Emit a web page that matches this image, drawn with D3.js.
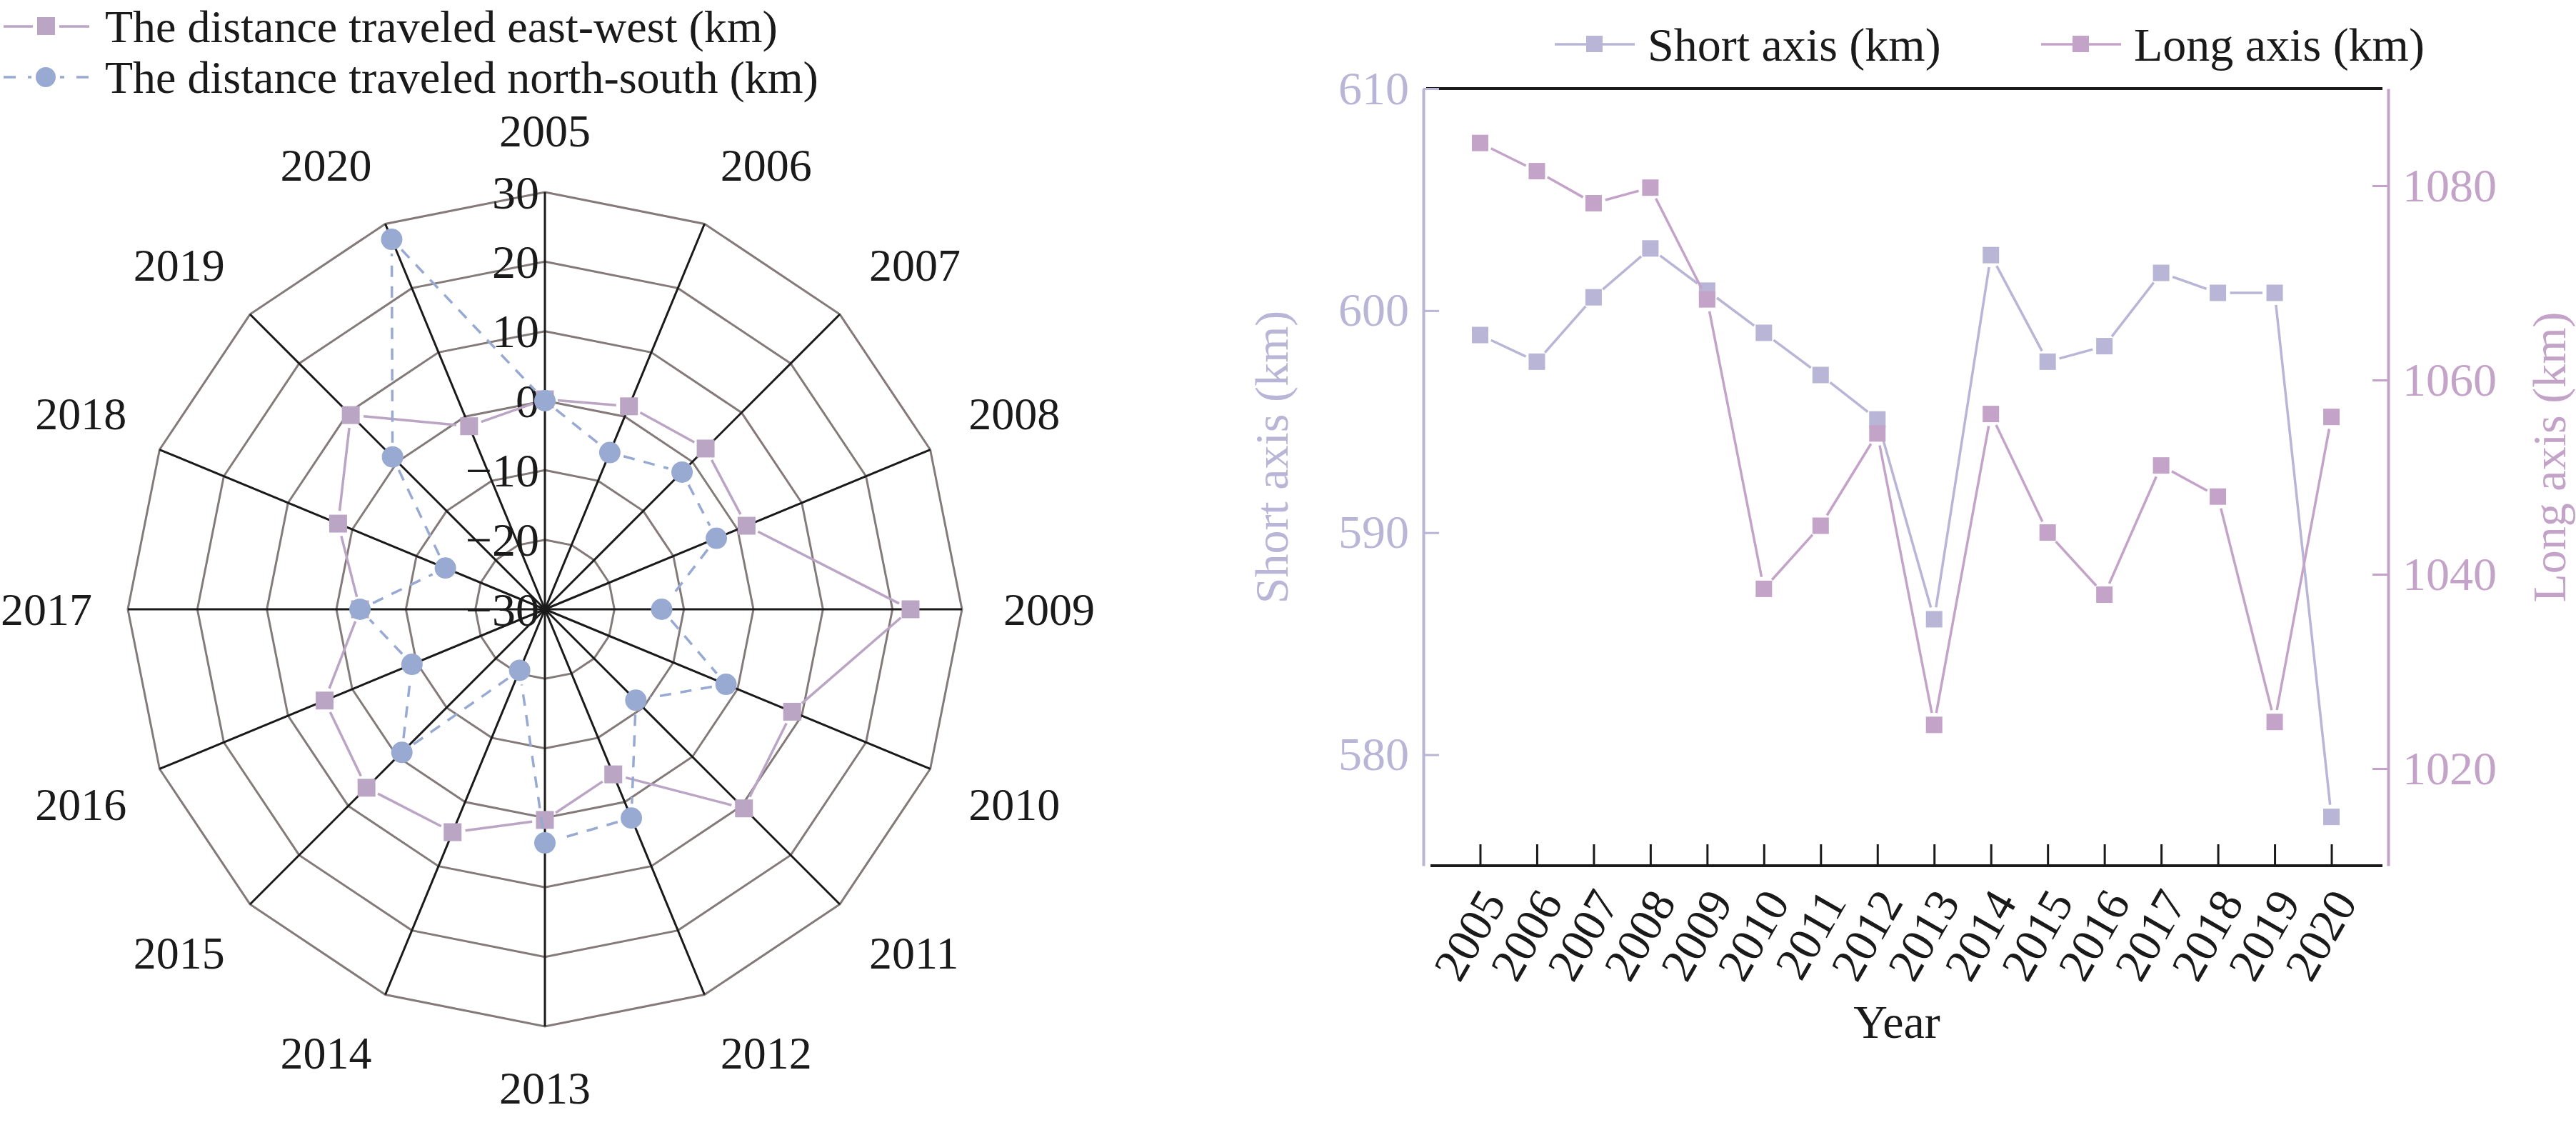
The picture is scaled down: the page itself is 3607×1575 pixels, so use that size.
<!DOCTYPE html>
<html>
<head>
<meta charset="utf-8">
<script src="https://cdn.jsdelivr.net/npm/d3@7"></script>
<style>
  body { margin: 0; background: #fff; }
  text { font-family: "Liberation Serif", "Times New Roman", serif; }
</style>
</head>
<body>
<div class="chart"></div>
<script>
// Data
const years = ['2005', '2006', '2007', '2008', '2009', '2010', '2011', '2012',
               '2013', '2014', '2015', '2016', '2017', '2018', '2019', '2020'];

// radar chart, km
const eastWest   = [0.2, 1.6, 2.7, 1.4, 22.6, 8.5, 10.5, -4.3, 0.3, 4.7, 6.3, 4.3, -3.4, 2.2, 9.5, -1.5];
const northSouth = [0, -5.6, -2.1, -3.3, -13.2, -1.8, -11.5, 2.5, 3.6, -20.5, -0.9, -9.3, -3.4, -14.5, 1.0, 27.6];
const radialTicks = [-30, -20, -10, 0, 10, 20, 30];

// line chart, km
const shortAxis = [598.9, 597.7, 600.6, 602.8, 600.9, 599.0, 597.1, 595.1,
                   586.1, 602.5, 597.7, 598.4, 601.7, 600.8, 600.8, 577.2];
const longAxis  = [1084.4, 1081.5, 1078.2, 1079.8, 1068.3, 1038.5, 1045.0, 1054.5,
                   1024.5, 1056.5, 1044.3, 1037.9, 1051.2, 1048.0, 1024.8, 1056.2];
const shortTicks = [580, 590, 600, 610];
const longTicks  = [1020, 1040, 1060, 1080];

const legendRadar = ['The distance traveled east-west (km)', 'The distance traveled north-south (km)'];
const legendLine  = ['Short axis (km)', 'Long axis (km)'];

// colours
const cEW = '#bba5c4', cNS = '#98aad2';
const cShort = '#b8b5d6', cLong = '#c4a3c8';
const cRing = '#857a7a', cInk = '#1a1a1a';
const fontSize = 66;

const W = 3607, H = 1575;
const svg = d3.select('.chart').append('svg')
  .attr('width', W).attr('height', H);

// segments between consecutive points, cut short near the markers
function segments(pts, gap, closed) {
  const out = [];
  const n = closed ? pts.length : pts.length - 1;
  for (let i = 0; i < n; i++) {
    const a = pts[i], b = pts[(i + 1) % pts.length];
    const dx = b[0] - a[0], dy = b[1] - a[1];
    const len = Math.hypot(dx, dy);
    if (len <= 2 * gap + 2) continue;
    const ux = dx / len, uy = dy / len;
    out.push([[a[0] + ux * gap, a[1] + uy * gap], [b[0] - ux * gap, b[1] - uy * gap]]);
  }
  return out;
}

// ---------------- Radar chart ----------------
const cx = 763, cy = 853, R = 584;
const rScale = d3.scaleLinear([-30, 30], [0, R]);
const step = 2 * Math.PI / years.length;
const ang = i => i * step;
const pos = (i, v) => [cx + Math.sin(ang(i)) * rScale(v), cy - Math.cos(ang(i)) * rScale(v)];

const radar = svg.append('g').attr('class', 'radar');

// rings (polygons)
radar.selectAll('.ring')
  .data(radialTicks.slice(1))
  .enter().append('polygon')
  .attr('class', 'ring')
  .attr('points', v => years.map((y, i) => pos(i, v).join(',')).join(' '))
  .attr('fill', 'none')
  .attr('stroke', cRing)
  .attr('stroke-width', 3);

// spokes
radar.selectAll('.spoke')
  .data(years)
  .enter().append('line')
  .attr('class', 'spoke')
  .attr('x1', cx).attr('y1', cy)
  .attr('x2', (d, i) => pos(i, 30)[0])
  .attr('y2', (d, i) => pos(i, 30)[1])
  .attr('stroke', cInk)
  .attr('stroke-width', 3);

// radial tick labels
radar.selectAll('.rlab')
  .data(radialTicks)
  .enter().append('text')
  .attr('class', 'rlab')
  .attr('x', cx - 8)
  .attr('y', d => cy - rScale(d))
  .attr('text-anchor', 'end')
  .attr('dominant-baseline', 'central')
  .attr('font-size', fontSize)
  .attr('fill', cInk)
  .text(d => d < 0 ? '\u2212' + Math.abs(d) : d);

// year labels around the outside
const sgn = t => Math.abs(t) < 1e-6 ? 0 : Math.sign(t);
radar.selectAll('.ylab')
  .data(years)
  .enter().append('text')
  .attr('class', 'ylab')
  .attr('x', (d, i) => {
    const s = Math.sin(ang(i));
    return pos(i, 30)[0] + s * (s > 0 ? 58 : 50);
  })
  .attr('y', (d, i) => pos(i, 30)[1] - Math.cos(ang(i)) * 58 - sgn(Math.cos(ang(i))) * 28)
  .attr('text-anchor', (d, i) => {
    const s = sgn(Math.sin(ang(i)));
    return s > 0 ? 'start' : s < 0 ? 'end' : 'middle';
  })
  .attr('dominant-baseline', 'central')
  .attr('font-size', 64)
  .attr('fill', cInk)
  .text(d => d);

// east-west series
const ewPts = eastWest.map((v, i) => pos(i, v));
radar.append('g').selectAll('line')
  .data(segments(ewPts, 18, true))
  .enter().append('line')
  .attr('x1', d => d[0][0]).attr('y1', d => d[0][1])
  .attr('x2', d => d[1][0]).attr('y2', d => d[1][1])
  .attr('stroke', cEW).attr('stroke-width', 3.5);
radar.append('g').selectAll('rect')
  .data(ewPts)
  .enter().append('rect')
  .attr('x', d => d[0] - 12.5).attr('y', d => d[1] - 12.5)
  .attr('width', 25).attr('height', 25)
  .attr('fill', cEW);

// north-south series
const nsPts = northSouth.map((v, i) => pos(i, v));
radar.append('g').selectAll('line')
  .data(segments(nsPts, 20, true))
  .enter().append('line')
  .attr('x1', d => d[0][0]).attr('y1', d => d[0][1])
  .attr('x2', d => d[1][0]).attr('y2', d => d[1][1])
  .attr('stroke', cNS).attr('stroke-width', 3.5)
  .attr('stroke-dasharray', '16,13');
radar.append('g').selectAll('circle')
  .data(nsPts)
  .enter().append('circle')
  .attr('cx', d => d[0]).attr('cy', d => d[1])
  .attr('r', 15)
  .attr('fill', cNS);

// radar legend
const leg1 = svg.append('g').attr('class', 'legend-radar');
legendRadar.forEach((label, i) => {
  const y = 37 + i * 71;
  const col = i === 0 ? cEW : cNS;
  leg1.append('line')
    .attr('x1', 5).attr('x2', 125).attr('y1', y).attr('y2', y)
    .attr('stroke', col).attr('stroke-width', 3.5)
    .attr('stroke-dasharray', i === 0 ? null : '17,17');
  if (i === 0) {
    leg1.append('rect').attr('x', 46).attr('y', y - 18).attr('width', 37).attr('height', 36)
      .attr('fill', 'white');
    leg1.append('rect').attr('x', 52).attr('y', y - 13).attr('width', 25).attr('height', 25)
      .attr('fill', col);
  } else {
    leg1.append('circle').attr('cx', 64).attr('cy', y).attr('r', 20).attr('fill', 'white');
    leg1.append('circle').attr('cx', 64).attr('cy', y).attr('r', 14).attr('fill', col);
  }
  leg1.append('text')
    .attr('x', 147).attr('y', y)
    .attr('dominant-baseline', 'central')
    .attr('font-size', 64)
    .attr('fill', cInk)
    .text(label);
});

// ---------------- Line chart ----------------
const plotLeft = 1993, plotRight = 3344, plotTop = 124, plotBottom = 1212;

const xScale = d3.scalePoint().domain(years).range([plotLeft, plotRight]).padding(1);
const yShort = d3.scaleLinear([575, 610], [plotBottom, plotTop]);
const yLong = d3.scaleLinear([1010, 1090], [plotBottom, plotTop]);

const lc = svg.append('g').attr('class', 'line-chart');

// frame: top black line
lc.append('line').attr('x1', plotLeft + 4).attr('x2', plotRight - 8)
  .attr('y1', plotTop).attr('y2', plotTop)
  .attr('stroke', cInk).attr('stroke-width', 4);

// x axis
const xAxis = d3.axisBottom(xScale).tickSizeInner(-30).tickSizeOuter(0).tickFormat('');
const xAxisDraw = lc.append('g').attr('class', 'x axis')
  .attr('transform', `translate(0,${plotBottom})`)
  .call(xAxis);
xAxisDraw.select('.domain').attr('d', `M${plotLeft + 10},0H${plotRight - 8}`)
  .attr('stroke', cInk).attr('stroke-width', 4);
xAxisDraw.selectAll('.tick line').attr('stroke', cInk).attr('stroke-width', 3);

lc.selectAll('.xlab')
  .data(years)
  .enter().append('text')
  .attr('class', 'xlab')
  .attr('transform', d => `translate(${xScale(d) + 18},${plotBottom + 40}) rotate(-60)`)
  .attr('text-anchor', 'end')
  .attr('dominant-baseline', 'central')
  .attr('font-size', fontSize)
  .attr('fill', cInk)
  .text(d => d);

// left axis (short)
const yAxisL = d3.axisLeft(yShort).tickValues(shortTicks).tickFormat(d3.format('d'))
  .tickSizeInner(-22).tickSizeOuter(0).tickPadding(20);
const yAxisLDraw = lc.append('g').attr('class', 'y axis left')
  .attr('transform', `translate(${plotLeft},0)`)
  .call(yAxisL);
yAxisLDraw.select('.domain').attr('stroke', cShort).attr('stroke-width', 4);
yAxisLDraw.selectAll('.tick line').attr('stroke', cShort).attr('stroke-width', 3);
yAxisLDraw.selectAll('.tick text')
  .attr('font-size', fontSize).attr('fill', cShort)
  .attr('font-family', '"Liberation Serif", serif');

// right axis (long)
const yAxisR = d3.axisRight(yLong).tickValues(longTicks).tickFormat(d3.format('d'))
  .tickSizeInner(-22).tickSizeOuter(0).tickPadding(20);
const yAxisRDraw = lc.append('g').attr('class', 'y axis right')
  .attr('transform', `translate(${plotRight},0)`)
  .call(yAxisR);
yAxisRDraw.select('.domain').attr('stroke', cLong).attr('stroke-width', 4);
yAxisRDraw.selectAll('.tick line').attr('stroke', cLong).attr('stroke-width', 3);
yAxisRDraw.selectAll('.tick text')
  .attr('font-size', fontSize).attr('fill', cLong)
  .attr('font-family', '"Liberation Serif", serif');

// axis titles
lc.append('text')
  .attr('transform', `translate(1780,640) rotate(-90)`)
  .attr('text-anchor', 'middle').attr('dominant-baseline', 'central')
  .attr('font-size', fontSize).attr('fill', cShort)
  .text('Short axis (km)');
lc.append('text')
  .attr('transform', `translate(3569,640) rotate(-90)`)
  .attr('text-anchor', 'middle').attr('dominant-baseline', 'central')
  .attr('font-size', fontSize).attr('fill', cLong)
  .text('Long axis (km)');
lc.append('text')
  .attr('x', 2656).attr('y', 1430)
  .attr('text-anchor', 'middle').attr('dominant-baseline', 'central')
  .attr('font-size', fontSize).attr('fill', cInk)
  .text('Year');

// series
function drawSeries(values, yScale, colour) {
  const pts = values.map((v, i) => [xScale(years[i]), yScale(v)]);
  const g = lc.append('g');
  g.selectAll('line')
    .data(segments(pts, 17, false))
    .enter().append('line')
    .attr('x1', d => d[0][0]).attr('y1', d => d[0][1])
    .attr('x2', d => d[1][0]).attr('y2', d => d[1][1])
    .attr('stroke', colour).attr('stroke-width', 3.5);
  g.selectAll('rect')
    .data(pts)
    .enter().append('rect')
    .attr('x', d => d[0] - 11.5).attr('y', d => d[1] - 11.5)
    .attr('width', 23).attr('height', 23)
    .attr('fill', colour);
}
drawSeries(shortAxis, yShort, cShort);
drawSeries(longAxis, yLong, cLong);

// line chart legend
const leg2 = svg.append('g').attr('class', 'legend-line');
[[2177, cShort], [2858, cLong]].forEach(([x0, col], i) => {
  leg2.append('line').attr('x1', x0).attr('x2', x0 + 112).attr('y1', 62).attr('y2', 62)
    .attr('stroke', col).attr('stroke-width', 3.5);
  leg2.append('rect').attr('x', x0 + 44).attr('y', 50).attr('width', 23).attr('height', 23)
    .attr('fill', col);
  leg2.append('text')
    .attr('x', x0 + 130).attr('y', 62)
    .attr('dominant-baseline', 'central')
    .attr('font-size', fontSize).attr('fill', cInk)
    .text(legendLine[i]);
});
</script>
</body>
</html>
